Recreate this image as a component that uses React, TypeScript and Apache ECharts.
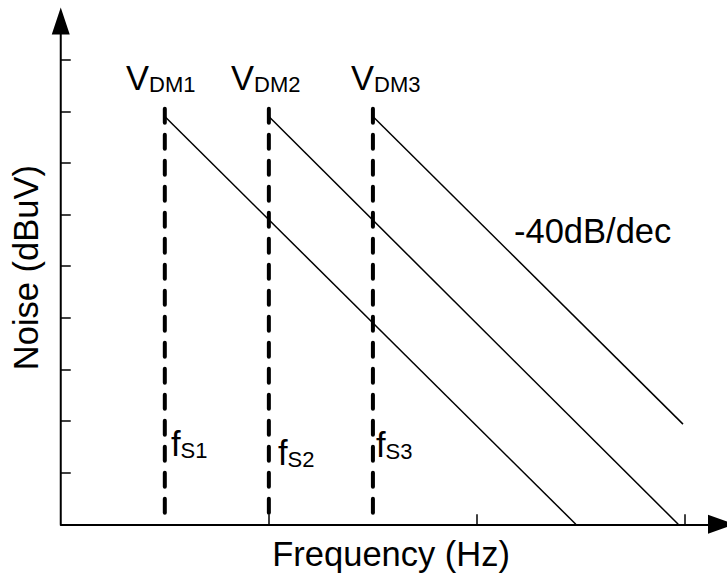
import React, { useEffect, useRef } from 'react';
import * as echarts from 'echarts';

const FONT = "'Liberation Sans', Arial, Helvetica, sans-serif";

// Data (x in decades of frequency, y in dBuV)
const sourceSubs = ['DM1', 'DM2', 'DM3'];
const cornerSubs = ['S1', 'S2', 'S3'];
const cornerDecade = [0.5, 1.0, 1.5];
const startLevel = [79, 79, 79];
const endDecade = [2.475, 2.967, 2.99];
const endLevel = [0, 0, 19.4];
const dashTopLevel = 80.5;
const xTicks = [1, 2, 3];
const yTicks = [10, 20, 30, 40, 50, 60, 70, 80, 90];
const slopeLabel = '-40dB/dec';
const xName = 'Frequency (Hz)';
const yName = 'Noise (dBuV)';

const vLabelPos = [
  [126, 61],
  [231, 61],
  [351, 61],
];
const fLabelPos = [
  [171, 427],
  [278, 436],
  [376, 428],
];

export default function App() {
  const ref = useRef<HTMLDivElement>(null);
  useEffect(() => {
    if (!ref.current) return;
    const chart = echarts.init(ref.current, null, { renderer: 'svg' });

    const richStyle = {
      v: { fontSize: 34.5, fontFamily: FONT, fill: '#000', lineHeight: 34.5 },
      s: { fontSize: 22, fontFamily: FONT, fill: '#000', lineHeight: 20, verticalAlign: 'bottom' },
    };

    const series: any[] = [];
    cornerDecade.forEach((c, i) => {
      series.push({
        type: 'line',
        data: [
          [c, startLevel[i]],
          [endDecade[i], endLevel[i]],
        ],
        symbol: 'none',
        lineStyle: { color: '#000', width: 1.5 },
        silent: true,
      });
      series.push({
        type: 'line',
        data: [
          [c, dashTopLevel],
          [c, 0],
        ],
        symbol: 'none',
        lineStyle: { color: '#000', width: 4, type: [14, 12], cap: 'round' },
        silent: true,
      });
    });

    const graphic: any[] = [];
    sourceSubs.forEach((s, i) => {
      graphic.push({
        type: 'text',
        x: vLabelPos[i][0],
        y: vLabelPos[i][1],
        style: {
          text: `{v|V}{s|${s}}`,
          rich: richStyle,
          align: 'left',
          verticalAlign: 'top',
        },
      });
    });
    cornerSubs.forEach((s, i) => {
      graphic.push({
        type: 'text',
        x: fLabelPos[i][0],
        y: fLabelPos[i][1],
        style: {
          text: `{v|f}{s|${s}}`,
          rich: richStyle,
          align: 'left',
          verticalAlign: 'top',
        },
      });
    });
    graphic.push({
      type: 'text',
      x: 514,
      y: 214,
      style: {
        text: slopeLabel,
        fontSize: 34.5,
        fontFamily: FONT,
        lineHeight: 34.5,
        fill: '#000',
        align: 'left',
        verticalAlign: 'top',
      },
    });

    chart.setOption({
      animation: false,
      backgroundColor: '#fff',
      grid: { left: 58, right: 5.5, top: 21, bottom: 48 },
      xAxis: {
        type: 'value',
        min: 0,
        max: 3.175,
        name: xName,
        nameLocation: 'middle',
        nameGap: 12,
        nameTextStyle: { fontSize: 34.5, fontFamily: FONT, color: '#000', lineHeight: 34.5 },
        axisLine: {
          show: true,
          lineStyle: { color: '#000', width: 2 },
          symbol: ['none', 'triangle'],
          symbolSize: [19, 27],
        },
        axisTick: {
          show: true,
          inside: true,
          length: 10,
          customValues: xTicks,
          lineStyle: { color: '#000', width: 1.5 },
        },
        axisLabel: { show: false },
        splitLine: { show: false },
      },
      yAxis: {
        type: 'value',
        min: 0,
        max: 97.5,
        name: yName,
        nameLocation: 'middle',
        nameGap: 18,
        nameTextStyle: {
          fontSize: 34.5,
          fontFamily: FONT,
          color: '#000',
          lineHeight: 34.5,
          padding: [0, 0, 0, 10],
        },
        axisLine: {
          show: true,
          lineStyle: { color: '#000', width: 2 },
          symbol: ['none', 'triangle'],
          symbolSize: [18, 27],
        },
        axisTick: {
          show: true,
          inside: true,
          length: 10,
          customValues: yTicks,
          lineStyle: { color: '#000', width: 1.5 },
        },
        axisLabel: { show: false },
        splitLine: { show: false },
      },
      series,
      graphic,
    });
    return () => chart.dispose();
  }, []);

  return (
    <div
      ref={ref}
      style={{ position: 'fixed', left: 0, top: 0, width: 727, height: 576 }}
    />
  );
}
